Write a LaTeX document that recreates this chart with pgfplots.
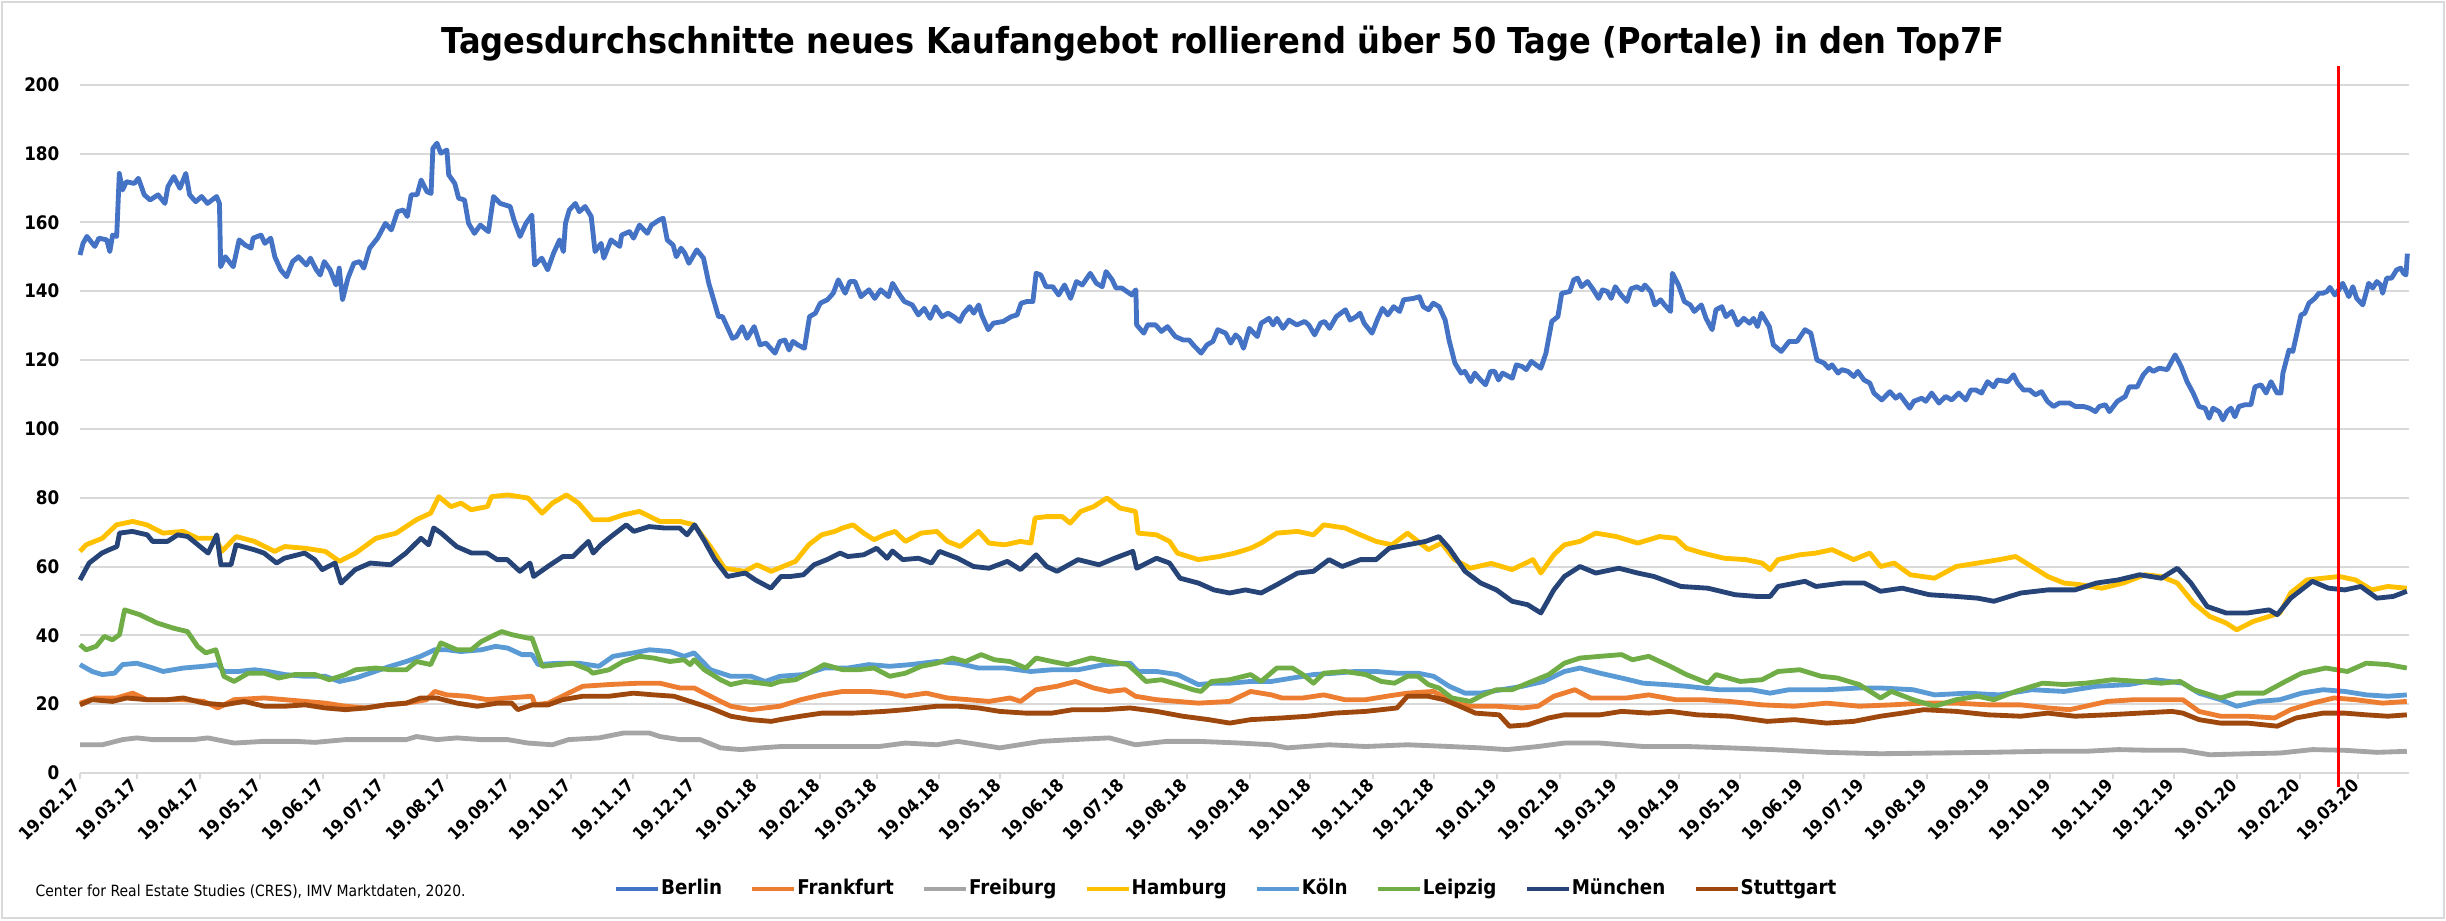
\documentclass[border=0pt]{standalone}
\usepackage{fontspec}
\setmainfont{DejaVu Sans Condensed}
\usepackage{pgfplots}
\usepackage{pgfplotstable}
\pgfplotsset{compat=1.18}
\definecolor{cBerlin}{HTML}{4472C4}
\definecolor{cFrankfurt}{HTML}{ED7D31}
\definecolor{cFreiburg}{HTML}{A5A5A5}
\definecolor{cHamburg}{HTML}{FFC000}
\definecolor{cKoeln}{HTML}{5B9BD5}
\definecolor{cLeipzig}{HTML}{70AD47}
\definecolor{cMuenchen}{HTML}{264478}
\definecolor{cStuttgart}{HTML}{9E480E}
\definecolor{gridgray}{HTML}{D9D9D9}

\pgfplotstableread[row sep=\\]{
x y\\
0 150.5\\ 1.5 153.9\\ 3.4 155.9\\ 7.3 153.0\\ 9.3 155.4\\ 13.2 154.9\\ 14.7 151.5\\ 16.1 156.3\\ 18.1 155.9\\
19.4 174.2\\ 21.0 169.4\\ 22.9 171.8\\ 26.8 171.3\\ 28.8 172.8\\ 31.7 168.0\\ 34.6 166.5\\ 38.5 168.0\\ 41.9 165.5\\
43.4 170.4\\ 46.3 173.3\\ 49.3 169.9\\ 52.2 174.2\\ 54.1 168.0\\ 57.1 166.0\\ 60.0 167.5\\ 62.9 165.5\\ 67.4 167.5\\
68.8 165.5\\ 69.4 147.1\\ 71.7 150.0\\ 75.6 147.1\\ 78.5 154.9\\ 81.5 153.4\\ 84.4 152.5\\ 85.4 155.4\\ 89.3 156.3\\
91.2 153.9\\ 94.1 155.4\\ 96.1 150.0\\ 99.0 146.2\\ 101.9 144.2\\ 104.9 148.6\\ 107.8 150.0\\ 111.7 147.6\\ 113.7 149.6\\
116.6 146.2\\ 118.5 144.7\\ 120.5 148.6\\ 123.4 146.2\\ 126.3 141.8\\ 127.9 146.7\\ 129.5 137.5\\ 132.2 143.8\\
135.1 148.1\\ 138.0 148.6\\ 140.0 146.7\\ 142.9 152.5\\ 146.8 155.4\\ 150.7 159.7\\ 153.6 157.8\\ 156.6 163.1\\
159.5 163.6\\ 161.5 161.7\\ 163.4 168.0\\ 166.3 168.0\\ 168.3 172.3\\ 171.2 168.9\\ 173.2 168.4\\ 174.1 181.5\\
176.1 183.0\\ 178.0 180.1\\ 181.0 181.0\\ 181.9 173.8\\ 184.9 171.3\\ 186.8 167.0\\ 189.7 166.5\\ 191.7 159.7\\
194.6 156.8\\ 197.5 159.2\\ 201.5 157.3\\ 204.0 167.5\\ 207.3 165.5\\ 212.2 164.6\\ 214.1 160.7\\ 217.1 155.9\\
220.0 159.7\\ 222.9 162.1\\ 224.3 147.6\\ 227.8 149.6\\ 230.7 146.2\\ 233.6 151.0\\ 236.6 154.9\\ 238.5 151.5\\
239.5 159.7\\ 241.4 163.6\\ 244.4 165.5\\ 246.3 163.1\\ 249.2 164.6\\ 252.2 161.7\\ 254.1 151.5\\ 257.1 153.9\\
258.4 149.6\\ 262.0 154.9\\ 266.3 153.0\\ 267.2 156.3\\ 271.1 157.3\\ 273.1 155.4\\ 276.0 159.2\\ 279.9 156.8\\
281.9 159.2\\ 285.8 160.7\\ 287.7 161.2\\ 289.7 154.9\\ 292.6 153.4\\ 294.2 150.0\\ 296.5 152.5\\ 298.4 151.0\\
300.4 148.1\\ 304.3 152.0\\ 307.6 149.6\\ 310.2 142.3\\ 313.1 136.5\\ 315.0 132.6\\ 317.0 132.6\\ 321.9 126.3\\
323.8 126.8\\ 326.7 129.7\\ 329.1 126.3\\ 332.6 129.7\\ 335.5 124.4\\ 338.4 124.9\\ 342.9 122.0\\ 345.3 125.4\\
347.8 125.8\\ 349.8 122.9\\ 351.7 125.4\\ 354.1 124.4\\ 357.4 123.4\\ 359.9 132.6\\ 362.8 133.6\\ 365.2 136.5\\
368.7 137.5\\ 371.6 139.4\\ 374.1 143.3\\ 377.5 139.4\\ 379.8 142.8\\ 382.3 142.8\\ 385.3 138.4\\ 389.2 140.4\\
392.1 137.9\\ 395.0 140.4\\ 398.9 138.4\\ 400.9 142.3\\ 403.8 139.4\\ 406.7 137.0\\ 410.6 136.0\\ 413.6 133.1\\
416.5 135.0\\ 419.4 132.1\\ 422.0 135.5\\ 425.3 132.6\\ 428.2 133.6\\ 431.1 132.6\\ 434.0 131.2\\ 436.0 133.6\\
438.9 135.5\\ 440.9 133.6\\ 443.4 136.0\\ 444.8 133.1\\ 448.1 128.8\\ 450.6 130.7\\ 455.5 131.2\\ 459.4 132.6\\
462.3 133.1\\ 464.3 136.5\\ 467.2 137.0\\ 470.1 137.0\\ 471.7 145.2\\ 474.0 144.7\\ 476.6 141.3\\ 479.9 141.3\\
482.8 138.9\\ 485.7 141.8\\ 488.7 137.9\\ 491.6 142.8\\ 494.5 141.8\\ 498.4 145.2\\ 501.4 142.3\\ 504.3 141.3\\
506.2 145.7\\ 509.2 143.3\\ 511.1 140.9\\ 514.0 140.9\\ 518.9 138.9\\ 520.9 140.4\\ 521.3 130.2\\ 524.8 127.8\\
526.7 130.2\\ 530.6 130.2\\ 533.5 128.3\\ 536.5 129.7\\ 540.4 126.8\\ 544.3 125.8\\ 547.2 125.8\\ 549.2 124.4\\
553.1 122.0\\ 556.0 124.4\\ 558.9 125.4\\ 561.3 128.8\\ 565.2 127.8\\ 567.7 124.9\\ 570.1 127.3\\ 572.0 126.3\\
574.0 123.4\\ 576.9 129.2\\ 580.8 126.8\\ 582.7 130.7\\ 586.6 132.1\\ 588.6 130.2\\ 590.5 132.1\\ 593.5 129.2\\
596.4 131.6\\ 600.3 130.2\\ 604.2 131.2\\ 606.2 130.2\\ 609.1 127.3\\ 612.0 130.7\\ 614.0 131.2\\ 616.5 129.2\\
619.8 132.6\\ 624.3 134.6\\ 626.6 131.6\\ 629.6 132.6\\ 631.5 133.6\\ 633.5 130.7\\ 637.4 127.8\\ 640.3 132.1\\
642.6 135.0\\ 645.2 133.1\\ 648.1 135.5\\ 651.0 134.1\\ 653.0 137.5\\ 657.9 137.9\\ 660.8 138.4\\ 662.7 135.5\\
665.3 134.6\\ 667.6 136.5\\ 670.5 135.5\\ 673.5 131.6\\ 675.4 125.8\\ 678.3 119.1\\ 681.3 116.2\\ 683.2 116.7\\
686.1 113.7\\ 688.1 116.2\\ 691.0 114.2\\ 693.4 112.8\\ 695.9 116.7\\ 697.9 116.7\\ 699.8 114.2\\ 701.8 116.2\\
706.6 114.7\\ 708.6 118.6\\ 711.5 118.1\\ 713.5 117.2\\ 716.0 119.6\\ 718.3 118.6\\ 720.7 117.6\\ 723.2 122.0\\
726.1 131.2\\ 729.1 132.6\\ 731.0 139.4\\ 735.0 139.9\\ 736.9 143.3\\ 738.8 143.8\\ 740.8 141.3\\ 743.7 142.8\\
746.6 140.4\\ 749.2 137.9\\ 751.1 140.4\\ 753.5 139.9\\ 755.4 137.9\\ 757.4 141.3\\ 760.3 138.9\\ 763.2 137.0\\
765.2 140.7\\ 768.1 141.3\\ 770.6 140.4\\ 772.0 141.8\\ 774.9 139.9\\ 776.9 136.0\\ 779.8 137.5\\ 781.7 136.0\\
784.7 134.1\\ 785.6 145.2\\ 788.6 141.8\\ 791.5 137.0\\ 794.4 136.0\\ 796.4 134.1\\ 799.9 136.0\\ 802.2 132.1\\
805.2 128.8\\ 807.1 134.6\\ 810.0 135.5\\ 812.0 132.6\\ 814.9 134.1\\ 817.8 130.2\\ 820.8 132.1\\ 823.7 130.7\\
825.6 132.1\\ 827.6 129.7\\ 829.5 133.6\\ 833.4 129.7\\ 835.4 124.4\\ 839.3 122.5\\ 843.2 125.4\\ 847.1 125.4\\
851.0 128.8\\ 853.9 127.8\\ 856.9 120.0\\ 860.4 119.1\\ 862.7 117.6\\ 864.3 118.6\\ 867.3 116.2\\ 869.2 117.2\\
872.2 116.7\\ 875.1 115.2\\ 877.1 116.7\\ 880.1 114.2\\ 883.0 113.3\\ 885.0 110.4\\ 888.9 108.4\\ 892.9 110.8\\
895.8 108.9\\ 897.8 109.9\\ 902.7 106.0\\ 904.7 108.0\\ 908.6 108.9\\ 910.6 108.0\\ 913.5 110.4\\ 917.1 107.5\\
920.4 109.4\\ 923.4 108.4\\ 926.9 110.4\\ 930.3 108.4\\ 932.8 111.3\\ 935.2 111.3\\ 938.1 110.4\\ 941.1 113.7\\
944.1 112.2\\ 946.0 114.2\\ 951.0 113.7\\ 953.9 115.7\\ 955.9 113.3\\ 958.8 111.3\\ 961.8 111.3\\ 964.7 109.9\\
967.7 110.8\\ 970.6 108.0\\ 973.6 106.5\\ 976.5 107.5\\ 981.5 107.5\\ 984.4 106.5\\ 988.4 106.5\\ 991.3 106.0\\
994.3 105.0\\ 996.2 106.5\\ 999.2 107.0\\ 1001.2 105.0\\ 1005.1 108.0\\ 1009.0 109.4\\ 1011.0 112.2\\ 1014.9 112.2\\
1017.9 115.7\\ 1020.8 117.6\\ 1022.8 116.7\\ 1025.8 117.6\\ 1029.7 117.2\\ 1032.7 120.5\\ 1033.6 121.5\\ 1036.6 118.1\\
1039.5 113.7\\ 1042.5 110.4\\ 1045.4 106.5\\ 1048.4 106.0\\ 1050.4 103.1\\ 1052.3 106.0\\ 1055.3 105.0\\ 1057.2 102.6\\
1059.2 105.0\\ 1061.2 106.0\\ 1063.1 103.5\\ 1065.1 106.5\\ 1068.1 107.0\\ 1071.0 107.0\\ 1073.0 112.2\\ 1076.0 112.8\\
1078.5 110.4\\ 1080.9 113.7\\ 1083.9 110.4\\ 1085.8 110.4\\ 1086.8 116.2\\ 1089.8 122.9\\ 1091.7 122.5\\ 1093.7 127.8\\
1095.7 133.1\\ 1097.6 133.6\\ 1099.6 136.5\\ 1102.5 137.9\\ 1104.5 139.4\\ 1106.5 139.4\\ 1108.5 139.9\\ 1110.0 141.1\\
1112.4 138.9\\ 1114.4 140.4\\ 1116.3 142.3\\ 1119.3 138.4\\ 1121.3 141.3\\ 1123.2 137.9\\ 1126.2 136.0\\ 1129.1 142.3\\
1131.1 140.9\\ 1133.1 142.8\\ 1135.0 141.8\\ 1136.0 139.4\\ 1138.0 143.8\\ 1140.4 143.8\\ 1142.9 146.2\\ 1144.9 146.7\\
1146.3 145.2\\ 1147.5 144.7\\ 1148.2 150.9\\
}\tBerlin

\pgfplotstableread[row sep=\\]{
x y\\
0 20.3\\ 8 21.8\\ 18 21.8\\ 26 23.2\\ 33 21.3\\ 43 21.3\\ 51 21.3\\ 61 20.8\\ 68 18.9\\ 76 21.3\\ 91 21.8\\ 101 21.3\\
111 20.8\\ 121 20.3\\ 131 19.4\\ 141 18.9\\ 151 19.8\\ 161 20.3\\ 171 21.3\\ 175 23.7\\ 181 22.7\\ 191 22.3\\ 201 21.3\\
211 21.8\\ 223 22.3\\ 224.5 19.8\\ 231 20.3\\ 241 23.2\\ 248 25.2\\ 261 25.7\\ 276 26.1\\ 286 26.1\\ 296 24.7\\ 303 24.7\\
311 22.3\\ 321 19.4\\ 331 18.4\\ 338 18.9\\ 345.3 19.4\\ 355.6 21.3\\ 366 22.7\\ 376.3 23.7\\ 389.2 23.7\\ 399.5 23.2\\
407.2 22.3\\ 417.5 23.2\\ 427.9 21.8\\ 438.2 21.3\\ 448.5 20.8\\ 458.8 21.8\\ 464 20.8\\ 471.7 24.2\\ 482 25.2\\ 491.1 26.6\\
500.1 24.7\\ 507.8 23.7\\ 515.6 24.2\\ 520.7 22.3\\ 531.1 21.3\\ 541.4 20.8\\ 551.7 20.3\\ 567.2 20.8\\ 577.5 23.7\\
587.8 22.7\\ 593 21.8\\ 603.3 21.8\\ 613.6 22.7\\ 624 21.3\\ 634.3 21.3\\ 644.6 22.3\\ 654.9 23.2\\ 667.8 23.7\\ 678.1 20.3\\
685.9 19.4\\ 698.8 19.4\\ 711.6 18.9\\ 719.4 19.4\\ 727.1 22.3\\ 737.5 24.2\\ 745.2 21.8\\ 763 21.8\\ 773.9 22.7\\
787.2 21.3\\ 800.5 21.3\\ 813.8 20.8\\ 829.8 19.8\\ 845.7 19.4\\ 861.7 20.3\\ 877.7 19.4\\ 893.7 19.8\\ 909.6 20.3\\
925.6 20.3\\ 941.6 19.8\\ 957.5 19.8\\ 970.8 18.9\\ 981.5 18.4\\ 989.5 19.4\\ 1000.1 20.8\\ 1013.4 21.3\\ 1026.8 21.3\\
1037.4 21.3\\ 1045.4 17.9\\ 1056 16.5\\ 1069.3 16.5\\ 1082.7 16.0\\ 1090.6 18.4\\ 1101.3 20.3\\ 1112 21.8\\ 1122.6 21.3\\
1135.9 20.3\\ 1147.9 20.8\\
}\tFrankfurt

\pgfplotstableread[row sep=\\]{
x y\\
0 8.2\\ 11 8.2\\ 21 9.7\\ 28 10.2\\ 36 9.7\\ 46 9.7\\ 56 9.7\\ 63 10.2\\ 76 8.7\\ 91 9.2\\ 106 9.2\\ 116 8.9\\ 131 9.7\\
146 9.7\\ 161 9.7\\ 166 10.6\\ 176 9.7\\ 186 10.2\\ 198 9.7\\ 211 9.7\\ 221 8.7\\ 233 8.2\\ 241 9.7\\ 256 10.2\\ 268 11.6\\
281 11.6\\ 286 10.6\\ 296 9.7\\ 306 9.7\\ 316 7.3\\ 326 6.8\\ 336 7.3\\ 346 7.7\\ 360.8 7.7\\ 376 7.7\\ 394.3 7.7\\
407.2 8.7\\ 422.7 8.2\\ 433 9.2\\ 453.7 7.3\\ 474.3 9.2\\ 489.8 9.7\\ 507.8 10.2\\ 520.7 8.2\\ 536.2 9.2\\ 551.7 9.2\\
572.3 8.7\\ 587.8 8.2\\ 595.6 7.3\\ 616.2 8.2\\ 634.3 7.7\\ 654.9 8.2\\ 675.5 7.7\\ 691 7.3\\ 703.9 6.8\\ 719.4 7.7\\
732.3 8.7\\ 749.9 8.7\\ 771.2 7.7\\ 792.5 7.7\\ 813.8 7.3\\ 835.1 6.8\\ 861.7 6.0\\ 888.3 5.6\\ 915 5.8\\ 941.6 6.0\\
968.2 6.3\\ 989.5 6.3\\ 1005.5 6.8\\ 1021.4 6.6\\ 1037.4 6.6\\ 1050.7 5.3\\ 1069.3 5.6\\ 1085.3 5.8\\ 1101.3 6.8\\
1117.3 6.6\\ 1133.2 6.0\\ 1147.9 6.3\\
}\tFreiburg

\pgfplotstableread[row sep=\\]{
x y\\
0 64.4\\ 3 66.3\\ 11 68.2\\ 18 72.1\\ 26 73.1\\ 33 72.1\\ 41 69.7\\ 51 70.2\\ 58 68.2\\ 67 68.2\\ 70 64.4\\ 77 68.7\\
86 67.3\\ 96 64.4\\ 101 65.8\\ 111 65.3\\ 121 64.4\\ 128 61.5\\ 136 63.9\\ 146 68.2\\ 156 69.7\\ 166 73.6\\ 173 75.5\\
177 80.3\\ 183 77.4\\ 188 78.4\\ 193 76.5\\ 201 77.4\\ 203 80.3\\ 211 80.8\\ 221 79.9\\ 228 75.5\\ 233 78.4\\ 240 80.8\\
246 78.4\\ 253 73.6\\ 261 73.6\\ 268 75.0\\ 276 76.0\\ 286 73.1\\ 296 73.1\\ 303 72.1\\ 311 65.8\\ 318 59.5\\ 328 58.6\\
334 60.5\\ 341 58.6\\ 353 61.5\\ 359.5 66.3\\ 365.9 69.2\\ 372.4 70.2\\ 376.3 71.2\\ 381.4 72.1\\ 386.6 69.7\\ 391.7 67.8\\
396.9 69.2\\ 402.1 70.2\\ 407.2 67.3\\ 415 69.7\\ 422.7 70.2\\ 427.9 67.3\\ 434.3 65.8\\ 443.3 70.2\\ 448.5 66.8\\
456.2 66.3\\ 464 67.3\\ 469.1 66.8\\ 471.2 74.1\\ 476.9 74.5\\ 484.6 74.5\\ 488.5 72.6\\ 493.7 76.0\\ 500.1 77.4\\
506.6 79.9\\ 513 77.0\\ 520.7 76.0\\ 522 69.7\\ 531.1 69.2\\ 537.5 67.3\\ 541.4 63.9\\ 551.7 62.0\\ 562 62.9\\ 569.8 63.9\\
577.5 65.3\\ 582.7 66.8\\ 590.4 69.7\\ 600.7 70.2\\ 608.5 69.2\\ 613.6 72.1\\ 624 71.2\\ 631.7 69.2\\ 639.4 67.3\\
647.2 66.3\\ 654.9 69.7\\ 665.2 64.9\\ 671.7 66.8\\ 678.1 62.0\\ 685.9 59.5\\ 696.2 60.9\\ 706.5 59.1\\ 716.8 62.0\\
720.7 58.1\\ 727.1 63.4\\ 732.3 66.3\\ 740 67.3\\ 747.8 69.7\\ 757.9 68.7\\ 768.5 66.8\\ 779.2 68.7\\ 787.2 68.2\\
792.5 65.3\\ 800.5 63.9\\ 811.1 62.4\\ 821.8 62.0\\ 829.8 61.0\\ 833.8 59.1\\ 837.7 62.0\\ 848.4 63.4\\ 856.4 63.9\\
864.4 64.9\\ 875 62.0\\ 883 63.9\\ 888.3 60.0\\ 895 61.0\\ 903 57.6\\ 914.9 56.6\\ 925.6 60.0\\ 936.2 61.0\\ 946.9 62.0\\
954.9 62.9\\ 962.9 60.0\\ 970.8 57.1\\ 978.8 55.2\\ 986.8 54.7\\ 997.5 53.7\\ 1008.1 55.2\\ 1018.8 57.6\\ 1026.7 57.1\\
1034.7 55.2\\ 1042.7 49.4\\ 1050.7 45.5\\ 1058.7 43.6\\ 1064 41.6\\ 1072 44.0\\ 1080 45.5\\ 1085.3 46.5\\ 1090.6 52.3\\
1098.6 56.1\\ 1106.6 56.6\\ 1114.6 57.1\\ 1122.6 56.1\\ 1130.6 53.2\\ 1138.5 54.2\\ 1147.9 53.7\\
}\tHamburg

\pgfplotstableread[row sep=\\]{
x y\\
0 31.5\\ 6 29.5\\ 11 28.6\\ 17 29.0\\ 21 31.5\\ 28 31.9\\ 36 30.5\\ 41 29.5\\ 51 30.5\\ 61 31.0\\ 68 31.5\\ 71 29.5\\
78 29.5\\ 86 30.0\\ 93 29.5\\ 101 28.6\\ 111 28.1\\ 121 28.1\\ 128 26.6\\ 136 27.6\\ 143 29.0\\ 153 31.0\\ 161 32.4\\
168 33.9\\ 175 35.8\\ 181 35.8\\ 188 35.3\\ 198 35.8\\ 205 36.8\\ 211 36.3\\ 218 34.4\\ 223 34.4\\ 226 31.5\\ 236 31.9\\
246 31.9\\ 256 31.0\\ 263 33.9\\ 273 34.9\\ 281 35.8\\ 291 35.3\\ 298 33.9\\ 303 34.9\\ 311 30.0\\ 321 28.1\\ 331 28.1\\
338 26.6\\ 345.3 28.1\\ 356.9 28.6\\ 367.2 30.5\\ 378.8 30.5\\ 389.2 31.5\\ 399.5 31.0\\ 409.8 31.5\\ 422.7 32.4\\
433 31.9\\ 443.3 30.5\\ 456.2 30.5\\ 469.1 29.5\\ 479.5 30.0\\ 492.4 30.0\\ 505.3 31.5\\ 518.1 31.9\\ 522 29.5\\
531.1 29.5\\ 541.4 28.6\\ 551.7 25.7\\ 559.4 26.1\\ 567.2 26.1\\ 577.5 26.6\\ 587.8 26.6\\ 598.1 27.6\\ 608.5 28.6\\
618.8 29.0\\ 629.1 29.5\\ 639.4 29.5\\ 649.7 29.0\\ 660.1 29.0\\ 667.8 28.1\\ 675.5 25.2\\ 683.3 23.2\\ 691 23.2\\
701.3 24.2\\ 711.6 25.2\\ 722 26.6\\ 732.3 29.5\\ 740 30.5\\ 749.9 29.0\\ 760.5 27.6\\ 771.2 26.1\\ 781.8 25.7\\
792.5 25.2\\ 808.5 24.2\\ 824.4 24.2\\ 833.8 23.2\\ 843.1 24.2\\ 861.7 24.2\\ 877.7 24.7\\ 888.3 24.7\\ 904.3 24.2\\
915 22.7\\ 930.9 23.2\\ 946.9 22.7\\ 962.9 24.2\\ 978.8 23.7\\ 994.8 25.2\\ 1010.8 25.7\\ 1024.1 27.1\\ 1037.4 26.1\\
1045.4 23.2\\ 1056 21.3\\ 1064 19.4\\ 1074.7 20.8\\ 1085.3 21.3\\ 1096 23.2\\ 1106.6 24.2\\ 1117.3 23.7\\ 1127.9 22.7\\
1138.5 22.3\\ 1147.9 22.7\\
}\tKoeln

\pgfplotstableread[row sep=\\]{
x y\\
0 37.3\\ 3 35.8\\ 8 36.8\\ 12 39.7\\ 16 38.7\\ 19.5 40.2\\ 22 47.4\\ 29.5 46.0\\ 38 43.6\\ 46 42.1\\ 53 41.1\\ 58 36.8\\
62 34.9\\ 67 35.8\\ 71 28.1\\ 76 26.6\\ 83 29.0\\ 91 29.0\\ 98 27.6\\ 106 28.6\\ 116 28.6\\ 123 27.1\\ 131 28.6\\ 136 30.0\\
146 30.5\\ 153 30.0\\ 161 30.0\\ 166 32.4\\ 173 31.5\\ 178 37.8\\ 186 35.8\\ 193 35.8\\ 198 38.2\\ 208 41.1\\ 213 40.2\\
221 39.2\\ 223 39.2\\ 228 31.0\\ 236 31.5\\ 243 31.9\\ 251 30.0\\ 253 29.0\\ 261 30.0\\ 268 32.4\\ 276 33.9\\ 283 33.4\\
291 32.4\\ 298 32.9\\ 301 31.5\\ 303 32.9\\ 308 30.0\\ 316 27.1\\ 321 25.7\\ 328 26.6\\ 336 26.1\\ 341 25.7\\ 345.3 26.6\\
353 27.1\\ 359.5 29.0\\ 367.2 31.5\\ 376.3 30.0\\ 384 30.0\\ 391.7 30.5\\ 399.5 28.1\\ 407.2 29.0\\ 415 31.0\\ 422.7 31.9\\
430.4 33.4\\ 436.9 32.4\\ 444.6 34.4\\ 451.1 32.9\\ 458.8 32.4\\ 466.6 30.5\\ 471.7 33.4\\ 479.5 32.4\\ 487.2 31.5\\
498.8 33.4\\ 507.8 32.4\\ 516.9 31.5\\ 520.7 29.5\\ 525.9 26.6\\ 533.6 27.1\\ 541.4 25.7\\ 549.1 24.2\\ 553 23.7\\
558.2 26.6\\ 567.2 27.1\\ 577.5 28.6\\ 582.7 26.6\\ 590.4 30.5\\ 598.1 30.5\\ 603.3 28.6\\ 608.5 26.1\\ 613.6 29.0\\
624 29.5\\ 634.3 28.6\\ 642 26.6\\ 648.5 26.1\\ 654.9 28.1\\ 660.1 28.1\\ 665.2 25.7\\ 670.4 24.7\\ 676.8 21.8\\
685.9 20.8\\ 692.3 22.7\\ 698.8 24.2\\ 706.5 24.2\\ 714.2 26.1\\ 724.6 28.6\\ 732.3 31.9\\ 740 33.4\\ 749.9 33.9\\
760.5 34.4\\ 765.9 32.9\\ 773.9 33.9\\ 784.5 31.0\\ 792.5 28.6\\ 803.1 26.1\\ 807.1 28.6\\ 819.1 26.6\\ 829.8 27.1\\
837.7 29.5\\ 848.4 30.0\\ 859 28.1\\ 867 27.6\\ 877.7 25.7\\ 888.3 21.8\\ 893.7 23.7\\ 904.3 21.3\\ 915 19.4\\ 925.6 21.3\\
936.2 22.3\\ 944.2 21.3\\ 954.9 23.7\\ 968.2 26.1\\ 978.8 25.7\\ 989.5 26.1\\ 1002.8 27.1\\ 1016.1 26.6\\ 1026.8 26.1\\
1036.1 26.6\\ 1042.7 24.2\\ 1056 21.8\\ 1064 23.2\\ 1077.3 23.2\\ 1088 26.6\\ 1096 29.0\\ 1107.9 30.5\\ 1118.6 29.5\\
1127.9 31.9\\ 1138.5 31.5\\ 1147.9 30.5\\
}\tLeipzig

\pgfplotstableread[row sep=\\]{
x y\\
0 56.1\\ 4.5 61.0\\ 10.8 63.9\\ 14.5 64.9\\ 18.2 65.8\\ 19.5 69.7\\ 25.8 70.2\\ 33.2 69.2\\ 35.8 67.3\\ 43.2 67.3\\
48.2 69.2\\ 53.2 68.7\\ 58.2 66.3\\ 63.2 63.9\\ 67.5 69.2\\ 69.5 60.5\\ 74.5 60.5\\ 77 66.3\\ 85.8 64.9\\ 90.8 63.9\\
97 61.0\\ 100.8 62.4\\ 110.8 63.9\\ 115.8 62.0\\ 119.5 59.1\\ 125.8 61.0\\ 128.8 55.2\\ 135.8 59.1\\ 143.2 61.0\\
153.2 60.5\\ 160.8 63.9\\ 168.2 68.2\\ 172 66.3\\ 174.5 71.2\\ 178.2 69.7\\ 185.8 65.8\\ 193.2 63.9\\ 200.8 63.9\\
205.8 62.0\\ 210.8 62.0\\ 217 58.6\\ 222 61.0\\ 223.8 57.1\\ 230.8 60.0\\ 238.2 62.9\\ 243.2 62.9\\ 250.8 67.3\\
253.2 63.9\\ 257 66.3\\ 262 68.7\\ 269.5 72.1\\ 273.2 70.2\\ 280.8 71.6\\ 288.2 71.2\\ 295.8 71.2\\ 299.5 69.2\\
303.2 72.1\\ 308.2 67.3\\ 313.2 62.0\\ 319.5 57.1\\ 328.2 58.1\\ 333.2 56.1\\ 340.8 53.7\\ 345.8 57.1\\ 350.5 57.1\\
356.9 57.6\\ 362.1 60.5\\ 368.5 62.0\\ 375 63.9\\ 378.8 62.9\\ 386.6 63.4\\ 393 65.3\\ 398.2 62.4\\ 400.8 64.5\\
405.9 62.0\\ 413.7 62.4\\ 420.1 61.0\\ 424 64.4\\ 433 62.4\\ 440.8 60.0\\ 448.5 59.5\\ 457.5 61.5\\ 464 59.1\\
471.7 63.4\\ 476.9 60.0\\ 482 58.6\\ 492.4 62.0\\ 502.7 60.5\\ 510.4 62.4\\ 519.4 64.4\\ 521.3 59.5\\ 531.1 62.4\\
537.5 61.0\\ 542.7 56.6\\ 551.7 55.2\\ 559.4 53.2\\ 567.2 52.3\\ 574.9 53.2\\ 582.7 52.3\\ 590.4 54.7\\ 600.7 58.1\\
608.5 58.6\\ 616.2 62.0\\ 622.7 60.0\\ 631.7 62.0\\ 639.4 62.0\\ 645.9 65.3\\ 654.9 66.3\\ 663.9 67.3\\ 670.4 68.7\\
675.5 65.3\\ 683.3 58.6\\ 691 55.2\\ 698.8 53.2\\ 706.5 49.9\\ 714.2 48.9\\ 720.7 46.5\\ 727.1 53.2\\ 732.3 57.1\\
740 60.0\\ 747.8 58.1\\ 759.2 59.5\\ 768.5 58.1\\ 776.5 57.1\\ 789.8 54.2\\ 803.1 53.7\\ 816.5 51.8\\ 827.1 51.3\\
833.8 51.3\\ 837.7 54.2\\ 851 55.7\\ 856.4 54.2\\ 869.7 55.2\\ 880.3 55.2\\ 888.3 52.8\\ 899 53.7\\ 912.3 51.8\\
925.6 51.3\\ 936.2 50.8\\ 944.2 49.9\\ 957.5 52.3\\ 970.8 53.2\\ 984.2 53.2\\ 994.8 55.2\\ 1005.5 56.1\\ 1016.1 57.6\\
1026.8 56.6\\ 1034.7 59.5\\ 1041.4 55.2\\ 1049.4 48.4\\ 1058.7 46.5\\ 1069.3 46.5\\ 1080 47.4\\ 1084 46.0\\ 1090.6 50.8\\
1101.3 55.7\\ 1109.3 53.7\\ 1117.3 53.2\\ 1125.2 54.2\\ 1133.2 50.8\\ 1141.2 51.3\\ 1147.9 52.8\\
}\tMuenchen

\pgfplotstableread[row sep=\\]{
x y\\
0 19.8\\ 6 21.3\\ 16 20.8\\ 23 21.8\\ 33 21.3\\ 43 21.3\\ 51 21.8\\ 61 20.3\\ 71 19.8\\ 81 20.8\\ 91 19.4\\ 101 19.4\\
111 19.8\\ 121 18.9\\ 131 18.4\\ 141 18.9\\ 151 19.8\\ 161 20.3\\ 168 21.8\\ 176 21.8\\ 186 20.3\\ 196 19.4\\ 206 20.3\\
213 20.3\\ 216 18.4\\ 223 19.8\\ 231 19.8\\ 238 21.3\\ 248 22.3\\ 261 22.3\\ 273 23.2\\ 283 22.7\\ 293 22.3\\ 301 20.8\\
311 18.9\\ 321 16.5\\ 331 15.5\\ 341 15.0\\ 345.3 15.5\\ 355.6 16.5\\ 366 17.4\\ 381.4 17.4\\ 396.9 17.9\\ 407.2 18.4\\
422.7 19.4\\ 433 19.4\\ 443.3 18.9\\ 453.7 17.9\\ 466.6 17.4\\ 479.5 17.4\\ 489.8 18.4\\ 505.3 18.4\\ 518.1 18.9\\
531.1 17.9\\ 544 16.5\\ 556.9 15.5\\ 567.2 14.5\\ 577.5 15.5\\ 593 16.0\\ 605.9 16.5\\ 618.8 17.4\\ 634.3 17.9\\
649.7 18.9\\ 654.9 22.3\\ 665.2 22.3\\ 672.9 21.3\\ 680.7 19.4\\ 688.4 17.4\\ 700.1 16.9\\ 705.2 13.6\\ 714.2 14.0\\
724.6 16.0\\ 732.3 16.9\\ 749.9 16.9\\ 760.5 17.9\\ 773.9 17.4\\ 784.5 17.9\\ 797.8 16.9\\ 813.8 16.5\\ 832.4 15.0\\
845.7 15.5\\ 861.7 14.5\\ 875 15.0\\ 888.3 16.5\\ 899 17.4\\ 909.6 18.4\\ 925.6 17.9\\ 941.6 16.9\\ 957.5 16.5\\
970.8 17.4\\ 984.2 16.5\\ 1000.1 16.9\\ 1016.1 17.4\\ 1032.1 17.9\\ 1037.4 17.4\\ 1045.4 15.5\\ 1056 14.5\\ 1069.3 14.5\\
1084 13.6\\ 1093.3 16.0\\ 1106.6 17.4\\ 1117.3 17.4\\ 1127.9 16.9\\ 1138.5 16.5\\ 1147.9 16.9\\
}\tStuttgart

\begin{document}
\begin{tikzpicture}[x=1pt,y=1pt]
\useasboundingbox (0,0) rectangle (733.8,276);
\draw[gridgray, line width=0.6pt] (0.5,0.5) rectangle (733.3,275.5);
\begin{axis}[
  at={(24pt,44.1pt)}, anchor=south west,
  scale only axis, width=698.7pt, height=206.5pt,
  xmin=0, xmax=1149, ymin=0, ymax=200,
  clip=false,
  axis x line*=bottom, axis y line*=left,
  y axis line style={draw=none},
  x axis line style={draw=gridgray, line width=0.6pt},
  ytick={0,20,...,200},
  ymajorgrids, grid style={gridgray, line width=0.6pt},
  ytick style={draw=none},
  tick align=outside, major tick length=1.8pt,
  xtick style={draw=gridgray, line width=0.6pt},
  xtick={0,28,59,89,120,150,181,212,242,273,303,334,365,393,424,454,485,515,546,577,607,638,668,699,730,758,789,819,850,880,911,942,972,1003,1033,1064,1095,1124},
  xticklabels={19.02.17,19.03.17,19.04.17,19.05.17,19.06.17,19.07.17,19.08.17,19.09.17,19.10.17,19.11.17,19.12.17,19.01.18,19.02.18,19.03.18,19.04.18,19.05.18,19.06.18,19.07.18,19.08.18,19.09.18,19.10.18,19.11.18,19.12.18,19.01.19,19.02.19,19.03.19,19.04.19,19.05.19,19.06.19,19.07.19,19.08.19,19.09.19,19.10.19,19.11.19,19.12.19,19.01.20,19.02.20,19.03.20},
  xticklabel style={rotate=45, anchor=east, font=\fontsize{5.3}{6}\selectfont\bfseries, inner sep=1pt},
  yticklabel style={font=\fontsize{5.6}{6.5}\selectfont\bfseries, inner sep=1pt, xshift=-3.2pt},
  /pgf/number format/assume math mode=true,
  legend columns=8,
  legend style={at={(0.492,-0.1685)}, anchor=center, draw=none, fill=none,
    font=\fontsize{6.1}{7}\selectfont\bfseries, inner sep=0pt,
    nodes={inner sep=0.35pt},
    /tikz/every even column/.append style={column sep=8.2pt}},
  legend image code/.code={\draw[#1, line width=1.1pt] (0pt,0pt) -- (12.6pt,0pt);},
  every axis plot/.append style={line width=1.45pt, line join=round},
]
\addplot[cBerlin] table {\tBerlin};
\addlegendentry{Berlin}
\addplot[cFrankfurt] table {\tFrankfurt};
\addlegendentry{Frankfurt}
\addplot[cFreiburg] table {\tFreiburg};
\addlegendentry{Freiburg}
\addplot[cHamburg] table {\tHamburg};
\addlegendentry{Hamburg}
\addplot[cKoeln] table {\tKoeln};
\addlegendentry{Köln}
\addplot[cLeipzig] table {\tLeipzig};
\addlegendentry{Leipzig}
\addplot[cMuenchen] table {\tMuenchen};
\addlegendentry{München}
\addplot[cStuttgart] table {\tStuttgart};
\addlegendentry{Stuttgart}
\addplot[red, line width=1pt, forget plot] coordinates {(1114.3,-4) (1114.3,205.3)};
\end{axis}
\node[anchor=base, inner sep=0pt, font=\fontsize{10.7}{12}\selectfont\bfseries] at (366.9,260.0) {Tagesdurchschnitte neues Kaufangebot rollierend über 50 Tage (Portale) in den Top7F};
\node[anchor=base west, inner sep=0pt, font=\fontsize{4.65}{5}\selectfont] at (10.5,7.0) {Center for Real Estate Studies (CRES), IMV Marktdaten, 2020.};
\end{tikzpicture}
\end{document}
